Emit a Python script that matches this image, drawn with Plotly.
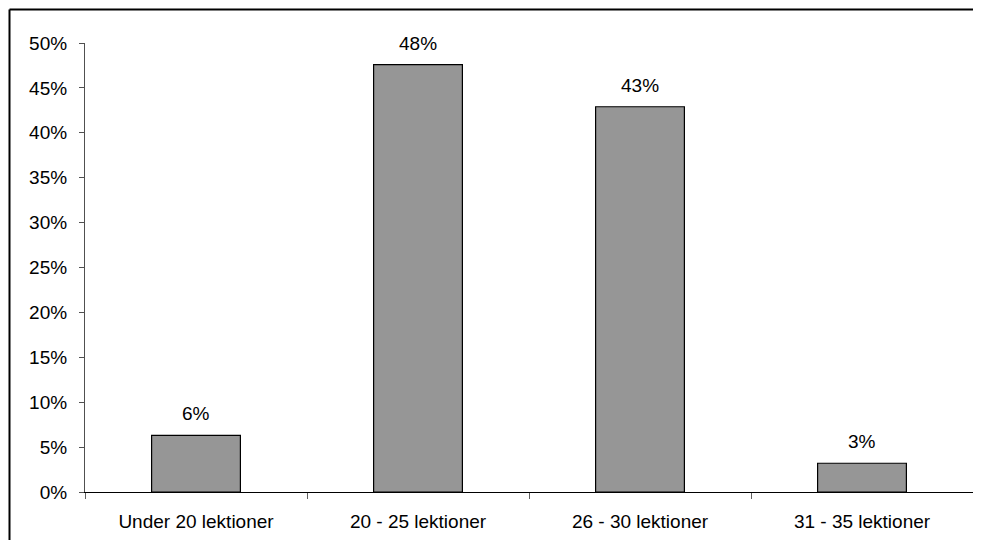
import plotly.graph_objects as go

categories = ["Under 20 lektioner", "20 - 25 lektioner", "26 - 30 lektioner", "31 - 35 lektioner"]
values = [0.063, 0.476, 0.429, 0.032]
label_texts = ["6%", "48%", "43%", "3%"]

# page body has an 8px margin, so the figure is drawn 8px right/down
OFF = 8
W, H = 965, 532
L, T = 85 - OFF, 43 - OFF
R = 0
B = H - (492 - OFF)
pw = W - L - R
ph = H - T - B

FONT = "Liberation Sans, Arial"
FS = 19

fig = go.Figure()
fig.add_trace(go.Bar(
    x=categories, y=values,
    marker=dict(color="#969696", line=dict(color="#000000", width=1.2)),
    width=0.4,
    hoverinfo="skip",
))

for c, v, t in zip(categories, values, label_texts):
    fig.add_annotation(x=c, y=v, text=t, showarrow=False, yanchor="bottom",
                       yshift=9, font=dict(family=FONT, size=FS, color="#000"))

# outer chart border: only top and left edges fall inside the picture
x_left = (9.5 - OFF - L) / pw
y_top = (T + ph - (9.5 - OFF)) / ph
fig.add_shape(type="line", xref="paper", yref="paper",
              x0=x_left, x1=1.0, y0=y_top, y1=y_top,
              line=dict(color="#000000", width=2), layer="below")
fig.add_shape(type="line", xref="paper", yref="paper",
              x0=x_left, x1=x_left, y0=y_top, y1=-(B + 2) / ph,
              line=dict(color="#000000", width=2), layer="below")

fig.update_layout(
    width=W, height=H,
    margin=dict(l=L, r=R, t=T, b=B, autoexpand=False),
    plot_bgcolor="white", paper_bgcolor="white",
    showlegend=False,
    bargap=0.6,
    font=dict(family=FONT, size=FS, color="#000"),
    xaxis=dict(
        showline=True, linecolor="#000000", linewidth=1.2,
        ticks="outside", ticklen=6, tickcolor="#606060", tickwidth=1.2,
        tickson="boundaries", showgrid=False, zeroline=False,
        ticklabelstandoff=12, automargin=False,
        tickfont=dict(size=FS),
    ),
    yaxis=dict(
        range=[0, 0.5], dtick=0.05, tickformat=".0%",
        showline=True, linecolor="#505050", linewidth=1.2,
        ticks="outside", ticklen=5, tickcolor="#505050", tickwidth=1.2,
        showgrid=False, zeroline=False,
        ticklabelstandoff=8, automargin=False,
        tickfont=dict(size=FS),
    ),
)

fig.write_html("out.html")
